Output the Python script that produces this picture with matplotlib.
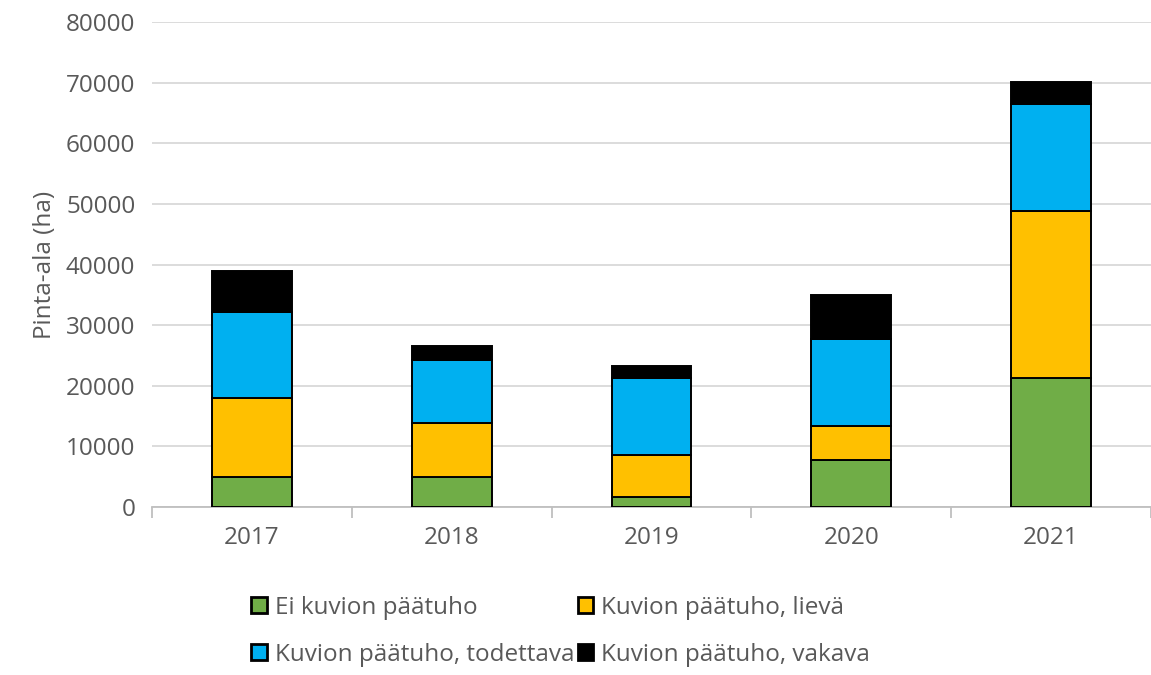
import matplotlib.pyplot as plt
import numpy as np

years = ["2017", "2018", "2019", "2020", "2021"]
ei_paatuho = [5000, 4900, 1600, 7800, 21200]
lieva = [12900, 9000, 7000, 5500, 27700]
todettava = [14300, 10400, 12600, 14400, 17600]
vakava = [6700, 2300, 2000, 7300, 3600]

series_labels = [
    "Ei kuvion päätuho",
    "Kuvion päätuho, lievä",
    "Kuvion päätuho, todettava",
    "Kuvion päätuho, vakava",
]
colors = ["#70ad47", "#ffc000", "#00b0f0", "#000000"]

plt.rcParams.update({
    "font.family": ["Open Sans", "DejaVu Sans"],
    "font.size": 17.5,
})

fig = plt.figure(figsize=(11.51, 6.75), dpi=100)
ax = fig.add_axes([0.132, 0.249, 0.868, 0.718])

x = np.arange(len(years))
bottom = np.zeros(len(years))
bars = []
for vals, col, lab in zip([ei_paatuho, lieva, todettava, vakava], colors, series_labels):
    b = ax.bar(x, vals, width=0.4, bottom=bottom, color=col, edgecolor="black",
               linewidth=1.4, label=lab, zorder=3)
    bars.append(b)
    bottom += np.array(vals)

ax.set_xlim(-0.5, len(years) - 0.5)
ax.set_ylim(0, 80000)
ax.set_yticks(np.arange(0, 80001, 10000))
ax.yaxis.grid(True, color="#d9d9d9", linewidth=1.3, zorder=0)
ax.set_axisbelow(True)

for s in ["top", "right", "left"]:
    ax.spines[s].set_visible(False)
ax.spines["bottom"].set_color("#bfbfbf")
ax.spines["bottom"].set_linewidth(1.3)

ax.set_xticks(x)
ax.set_xticklabels(years)
ax.set_xticks(np.arange(-0.5, len(years)), minor=True)
ax.tick_params(axis="x", which="major", length=0, pad=14, labelcolor="#595959")
ax.tick_params(axis="x", which="minor", length=8, color="#bfbfbf", width=1.3)
ax.tick_params(axis="y", length=0, pad=12, labelcolor="#595959")

ax.set_ylabel("Pinta-ala (ha)", color="#595959", labelpad=6)

handles = [bars[0], bars[2], bars[1], bars[3]]
labels = [series_labels[0], series_labels[2], series_labels[1], series_labels[3]]
leg = fig.legend(handles, labels, ncol=2, loc="center", bbox_to_anchor=(0.487, 0.065),
                 frameon=False, labelcolor="#595959", handlelength=0.65,
                 handleheight=0.65, handletextpad=0.3, columnspacing=0.15, labelspacing=0.95)
for h in leg.legend_handles:
    h.set_linewidth(2)

fig.savefig("out.png", dpi=100)
